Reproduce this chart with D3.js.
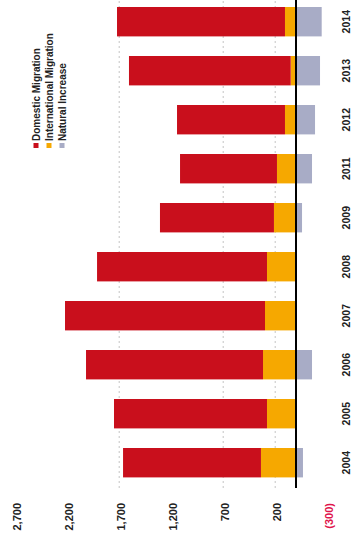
<!DOCTYPE html>
<html><head><meta charset="utf-8">
<script src="https://cdn.jsdelivr.net/npm/d3@7"></script>
<style>body{margin:0;background:#fff}</style>
</head><body><svg id="c" width="352" height="540"></svg>
<script>
const years = ["2004","2005","2006","2007","2008","2009","2011","2012","2013","2014"];
const domestic = [1326, 1471, 1702, 1923, 1634, 1096, 932, 1038, 1555, 1615];
const international = [337, 279, 317, 298, 279, 212, 183, 106, 51, 106];
const natural = [-67, 0, -154, 0, 0, -58, -154, -183, -231, -247];
const tickValues = [-300, 200, 700, 1200, 1700, 2200, 2700];
const tickLabels = ["(300)", "200", "700", "1,200", "1,700", "2,200", "2,700"];
const gridValues = [200, 700, 1700];
const seriesKeys = ["domestic", "international", "natural"];
const seriesNames = ["Domestic Migration", "International Migration", "Natural Increase"];
const seriesColors = ["#c90f1c", "#f6a800", "#a8acc6"];

const svg = d3.select("#c");
// draw the chart in unrotated coordinates, then rotate -90deg
const g = svg.append("g").attr("transform", "translate(0,540) rotate(-90)");

const x = d3.scaleBand().domain(years).range([52.8, 542.8]).paddingInner(0.4).paddingOuter(0.2);
const y = d3.scaleLinear().domain([-300, 2700]).range([327.2, 15.2]);
const color = d3.scaleOrdinal().domain(seriesKeys).range(seriesColors);

const rows = years.map((yr, i) => ({year: yr, domestic: domestic[i], international: international[i], natural: natural[i]}));
const stack = d3.stack().keys(["international", "domestic", "natural"]).offset(d3.stackOffsetDiverging);
const layers = stack(rows);

const font = "'Liberation Sans', Arial, sans-serif";

// gridlines
g.append("g").selectAll("line").data(gridValues).join("line")
  .attr("x1", 52).attr("x2", 540)
  .attr("y1", d => y(d)).attr("y2", d => y(d))
  .attr("stroke", "#c4c4c4").attr("stroke-width", 1).attr("stroke-dasharray", "2,3");

// bars
g.append("g").selectAll("g").data(layers).join("g")
  .attr("fill", d => color(d.key))
  .selectAll("rect").data(d => d).join("rect")
  .attr("x", d => x(d.data.year))
  .attr("width", x.bandwidth())
  .attr("y", d => y(Math.max(d[0], d[1])))
  .attr("height", d => Math.abs(y(d[0]) - y(d[1])));

// zero axis line
g.append("line").attr("x1", 52).attr("x2", 540).attr("y1", y(0)).attr("y2", y(0))
  .attr("stroke", "#000").attr("stroke-width", 2);

// value tick labels
g.append("g").selectAll("text").data(tickValues).join("text")
  .attr("x", 37).attr("y", d => y(d)).attr("dy", "0.55em")
  .attr("text-anchor", "end")
  .attr("font-family", font).attr("font-weight", "bold").attr("font-size", 11)
  .attr("fill", d => d < 0 ? "#e0144c" : "#222")
  .text((d, i) => tickLabels[i]);

// year labels
g.append("g").selectAll("text").data(years).join("text")
  .attr("x", d => x(d) + x.bandwidth() / 2).attr("y", 346).attr("dy", "0.35em")
  .attr("text-anchor", "middle")
  .attr("font-family", font).attr("font-weight", "bold").attr("font-size", 10.5)
  .attr("fill", "#222")
  .text(d => d);

// legend
const leg = g.append("g").selectAll("g").data(seriesKeys).join("g")
  .attr("transform", (d, i) => `translate(392,${36 + i * 13})`);
leg.append("rect").attr("x", 0).attr("y", -2.5).attr("width", 5).attr("height", 5)
  .attr("fill", d => color(d));
leg.append("text").attr("x", 7).attr("y", 0).attr("dy", "0.35em")
  .attr("font-family", font).attr("font-weight", "bold").attr("font-size", 10)
  .attr("fill", "#222")
  .text((d, i) => seriesNames[i]);
</script></body></html>
